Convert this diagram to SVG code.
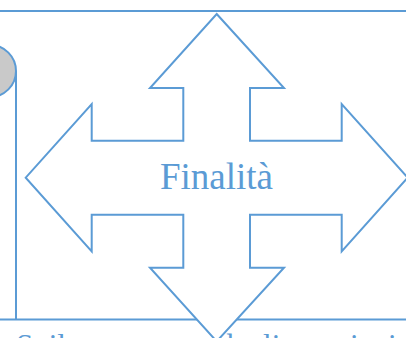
<svg xmlns="http://www.w3.org/2000/svg" width="406" height="338" viewBox="0 0 406 338">
  <style>
    .rule { stroke: #5b9bd5; stroke-width: 2; fill: none; }
    .shape { stroke: #5b9bd5; stroke-width: 2; fill: #ffffff; stroke-linejoin: miter; }
    .label { font-family: "Liberation Serif", "Times New Roman", serif; fill: #5b9bd5; }
  </style>

  <!-- frame lines and side connector -->
  <g id="connectors">
    <line class="rule" x1="0" y1="11" x2="406" y2="11"/>
    <line class="rule" x1="16" y1="71" x2="16" y2="319.5"/>
    <line class="rule" x1="0" y1="319.5" x2="406" y2="319.5"/>
  </g>

  <!-- side marker circle -->
  <g id="marker">
    <circle cx="-10" cy="71" r="26" fill="#c9c9c9" stroke="#5b9bd5" stroke-width="2"/>
  </g>

  <!-- four-way arrow with centre label -->
  <g id="finalita">
    <polygon class="shape" points="216.7,14 284,88 250,88 250,140.7 341.7,140.7 341.7,104 407.7,177.7 341.7,251.4 341.7,214.7 250,214.7 250,267.7 284,267.7 216.7,341.4 150,267.7 183.3,267.7 183.3,214.7 91.7,214.7 91.7,251.4 25.7,177.7 91.7,104 91.7,140.7 183.3,140.7 183.3,88 150,88"/>
    <text class="label" x="216.5" y="189.3" font-size="37" text-anchor="middle">Finalità</text>
  </g>

  <!-- caption below the frame -->
  <g id="caption">
    <text class="label" x="16" y="356" font-size="31">Sviluppo e cura degli utenti e i servizi</text>
  </g>
</svg>
